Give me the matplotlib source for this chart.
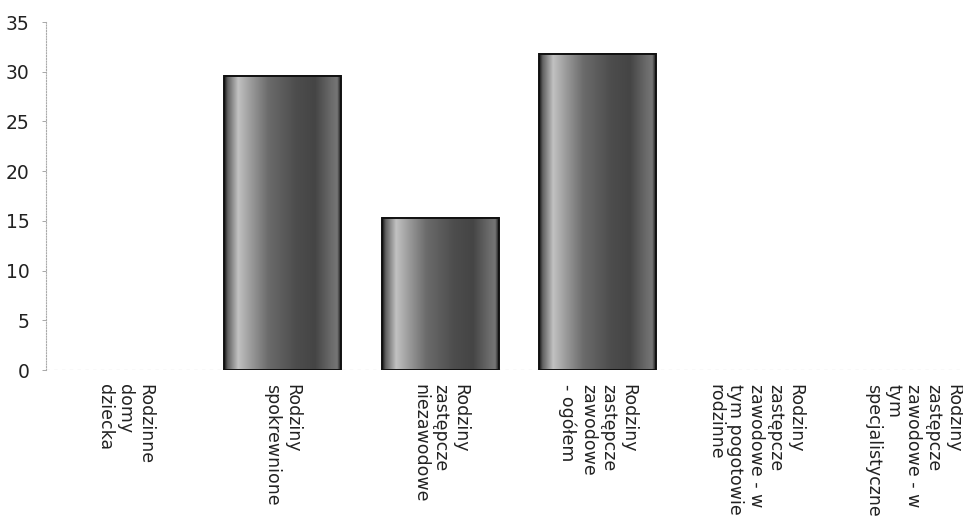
import numpy as np
import matplotlib.pyplot as plt
from matplotlib.colors import LinearSegmentedColormap
from matplotlib.transforms import ScaledTranslation

categories = [
    'Rodzinne\ndomy\ndziecka',
    'Rodziny\nspokrewnione',
    'Rodziny\nzastępcze\nniezawodowe',
    'Rodziny\nzastępcze\nzawodowe\n- ogółem',
    'Rodziny\nzastępcze\nzawodowe - w\ntym pogotowie\nrodzinne',
    'Rodziny\nzastępcze\nzawodowe - w\ntym\nspecjalistyczne',
]
values = [0, 29.6, 15.3, 31.8, 0, 0]
y_ticks = [0, 5, 10, 15, 20, 25, 30, 35]

# grey shading across the width of a bar (light strip left, dark right)
shade = LinearSegmentedColormap.from_list('shade', [
    (0.00, (0.08, 0.08, 0.08)),
    (0.03, (0.38, 0.38, 0.38)),
    (0.12, (0.76, 0.76, 0.76)),
    (0.22, (0.62, 0.62, 0.62)),
    (0.38, (0.42, 0.42, 0.42)),
    (0.62, (0.30, 0.30, 0.30)),
    (0.78, (0.27, 0.27, 0.27)),
    (0.92, (0.42, 0.42, 0.42)),
    (0.97, (0.46, 0.46, 0.46)),
    (1.00, (0.10, 0.10, 0.10)),
])
grad = np.linspace(0, 1, 256).reshape(1, -1)

fig = plt.figure(figsize=(9.63, 5.22), dpi=100)
ax = fig.add_axes([46 / 963, 152 / 522, 946 / 963, 348 / 522])

x = np.arange(len(categories))
widths = [1.4 if v > 0 else 0 for v in values]
bars = ax.bar(x, values, width=0.74, color='none', edgecolor='#111111',
              linewidth=widths, zorder=3)
for b in bars:
    if b.get_height() <= 0:
        continue
    x0, w, h = b.get_x(), b.get_width(), b.get_height()
    ax.imshow(grad, cmap=shade, aspect='auto', extent=(x0, x0 + w, 0, h),
              zorder=2, interpolation='bilinear')

ax.set_xlim(-0.5, len(categories) - 0.5)
ax.set_ylim(0, 35)
ax.set_yticks(y_ticks)
ax.set_yticklabels([str(t) for t in y_ticks], fontsize=13.5, color='#222222')

ax.set_xticks(x)
ax.set_xticklabels(categories, rotation=270, fontsize=12.5, color='#222222',
                   ha='center', va='top', multialignment='left',
                   linespacing=1.15)
shift = ScaledTranslation(-6 / 100, 0, fig.dpi_scale_trans)
for lab in ax.get_xticklabels():
    lab.set_transform(lab.get_transform() + shift)
ax.tick_params(axis='x', length=0, pad=10)
ax.tick_params(axis='y', length=3, width=0.6, color='#999999', pad=9)

for side in ['top', 'right', 'bottom']:
    ax.spines[side].set_visible(False)
ax.spines['left'].set_color('#aaaaaa')
ax.spines['left'].set_linewidth(0.8)
ax.spines['left'].set_linestyle((0, (1, 1.5)))
ax.axhline(0, color='#999999', lw=0.8, ls=(0, (3, 4)), zorder=1)

fig.savefig('out.png', dpi=100)
